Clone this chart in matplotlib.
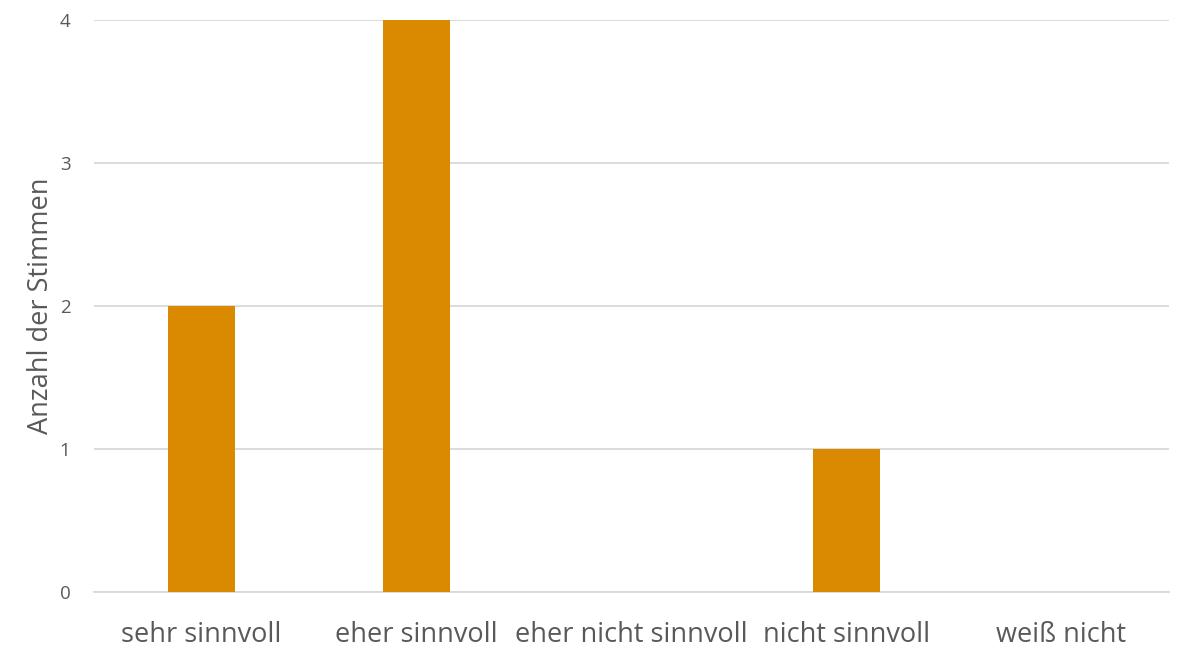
import matplotlib.pyplot as plt

categories = ["sehr sinnvoll", "eher sinnvoll", "eher nicht sinnvoll", "nicht sinnvoll", "weiß nicht"]
votes = [2, 4, 0, 1, 0]

plt.rcParams["font.family"] = ["Open Sans", "DejaVu Sans"]
text_color = "#595959"

fig = plt.figure(figsize=(11.78, 6.48), dpi=100)
ax = fig.add_axes([0.0798, 0.0864, 0.9126, 0.8827])

x = range(len(categories))
ax.bar(x, votes, width=0.315, color="#DA8A00", zorder=3)

ax.set_xlim(-0.5, len(categories) - 0.5)
ax.set_ylim(0, 4)
ax.set_yticks([0, 1, 2, 3, 4])
ax.set_xticks(list(x))
ax.set_xticklabels(categories, fontsize=19.5, color=text_color)
ax.tick_params(axis="y", labelsize=13.5, labelcolor=text_color, length=0, pad=17)
ax.tick_params(axis="x", length=0, pad=21)

ax.grid(axis="y", color="#D9D9D9", linewidth=1.3, zorder=0)
for side in ["top", "right", "left"]:
    ax.spines[side].set_visible(False)
ax.spines["bottom"].set_color("#D9D9D9")
ax.spines["bottom"].set_linewidth(1.3)

ax.set_ylabel("Anzahl der Stimmen", fontsize=19.5, color=text_color, labelpad=3)

fig.savefig("out.png", dpi=100)
